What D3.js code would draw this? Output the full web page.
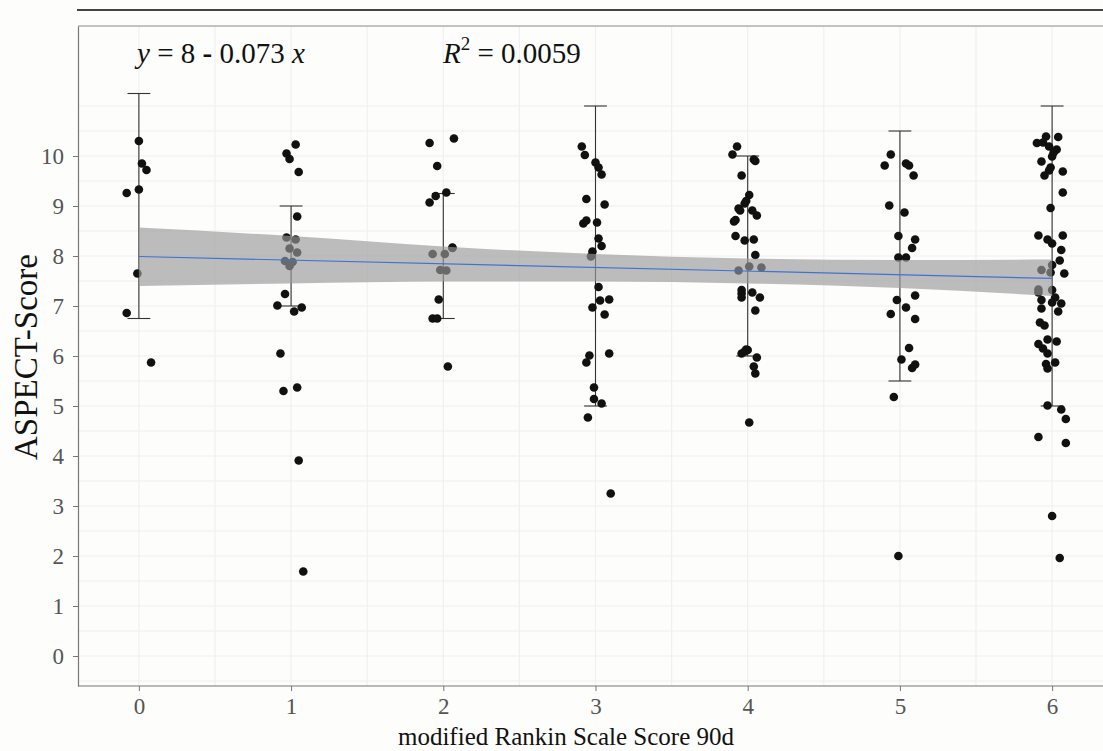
<!DOCTYPE html>
<html>
<head>
<meta charset="utf-8">
<script src="https://cdn.jsdelivr.net/npm/d3@7"></script>
<style>
  body { margin: 0; background: #fdfdfb; }
  svg { display: block; font-family: "Liberation Serif", "DejaVu Serif", serif; }
</style>
</head>
<body>
<svg id="chart" width="1103" height="751"></svg>
<script>
// mRS groups and jittered ASPECT points (group, jitter offset, score)
const mrsGroups = [0, 1, 2, 3, 4, 5, 6];
const yTicks = [0, 1, 2, 3, 4, 5, 6, 7, 8, 9, 10];

const pointGroup = [
  0,0,0,0,0,0,0,0,
  1,1,1,1,1,1,1,1,1,1,1,1,1,1,1,1,1,1,1,1,1,
  2,2,2,2,2,2,2,2,2,2,2,2,2,2,2,2,
  3,3,3,3,3,3,3,3,3,3,3,3,3,3,3,3,3,3,3,3,3,3,3,3,3,3,3,
  4,4,4,4,4,4,4,4,4,4,4,4,4,4,4,4,4,4,4,4,4,4,4,4,4,4,4,4,4,4,4,4,4,4,4,
  5,5,5,5,5,5,5,5,5,5,5,5,5,5,5,5,5,5,5,5,5,5,5,
  6,6,6,6,6,6,6,6,6,6,6,6,6,6,6,6,6,6,6,6,6,6,6,6,6,6,6,6,6,6,6,6,6,6,6,6,6,6,6,6,6,6,6,6,6,6,6,6,6,6,6
];
const pointJitter = [
  0.00,0.02,0.05,0.00,-0.08,-0.01,-0.08,0.08,
  0.03,-0.03,-0.01,0.05,0.04,-0.03,0.03,-0.01,0.04,-0.04,0.01,-0.01,-0.04,-0.09,0.07,0.02,-0.07,-0.05,0.04,0.05,0.08,
  -0.09,0.07,-0.04,-0.05,0.02,-0.09,0.06,0.06,-0.07,0.01,-0.02,0.02,-0.03,-0.07,-0.04,0.03,
  -0.09,-0.07,0.00,0.02,0.04,-0.06,0.06,-0.08,-0.06,0.01,0.02,0.04,-0.02,-0.03,0.02,0.03,0.09,-0.02,0.06,-0.04,-0.06,0.09,-0.01,-0.01,0.04,-0.05,0.10,
  -0.07,-0.10,0.04,0.05,-0.04,0.01,-0.01,-0.02,-0.06,-0.05,0.03,0.06,-0.08,-0.09,-0.08,-0.02,0.04,0.05,-0.06,0.01,0.09,-0.04,-0.04,-0.04,0.03,0.08,0.05,-0.01,-0.04,0.00,-0.02,0.06,0.04,0.05,0.01,
  -0.06,-0.10,0.04,0.06,0.09,-0.07,0.03,-0.01,0.10,0.08,-0.01,0.04,-0.02,0.10,-0.06,0.04,0.10,0.06,0.01,0.08,0.10,-0.04,-0.01,
  -0.04,0.04,-0.10,-0.06,-0.02,0.03,0.01,0.00,-0.07,-0.01,-0.02,0.07,-0.05,0.07,-0.01,-0.09,-0.03,0.00,0.07,0.06,0.05,0.00,-0.07,-0.01,0.08,-0.09,-0.09,0.00,0.02,-0.07,0.06,0.00,-0.07,0.04,-0.08,-0.05,-0.03,0.03,-0.09,-0.06,-0.03,0.02,-0.04,-0.03,-0.03,0.06,0.09,-0.09,0.09,0.00,0.05
];
const pointScore = [
  10.30,9.85,9.72,9.33,9.26,7.65,6.86,5.87,
  10.23,10.05,9.94,9.68,8.79,8.37,8.33,8.15,8.07,7.90,7.88,7.80,7.24,7.01,6.97,6.89,6.05,5.30,5.37,3.91,1.69,
  10.26,10.35,9.80,9.20,9.27,9.07,8.17,8.16,8.04,8.04,7.72,7.71,7.13,6.75,6.75,5.79,
  10.19,10.02,9.87,9.77,9.63,9.14,9.03,8.65,8.71,8.67,8.35,8.20,8.09,7.99,7.38,7.11,7.13,6.97,6.83,6.01,5.87,6.05,5.37,5.14,5.05,4.77,3.25,
  10.19,10.03,9.93,9.90,9.61,9.22,9.10,9.05,8.95,8.91,8.91,8.81,8.72,8.69,8.40,8.31,8.33,8.02,7.71,7.79,7.77,7.32,7.25,7.17,7.27,7.17,6.91,6.13,6.05,6.12,6.09,5.97,5.79,5.65,4.67,
  10.03,9.81,9.85,9.81,9.61,9.01,8.87,8.40,8.33,8.16,7.97,7.97,7.12,7.21,6.84,6.97,6.74,6.16,5.93,5.76,5.83,5.18,2.00,
  10.39,10.38,10.26,10.27,10.19,10.13,10.07,9.99,9.89,9.77,9.71,9.69,9.61,9.27,8.96,8.41,8.33,8.25,8.41,8.12,7.91,7.82,7.72,7.67,7.65,7.33,7.27,7.32,7.17,7.12,7.05,7.07,6.95,6.89,6.67,6.61,6.33,6.29,6.24,6.15,6.05,5.87,5.84,5.75,5.01,4.93,4.74,4.38,4.26,2.80,1.96
];

// error bar ranges per group
const barLow  = [6.75, 7.0, 6.75, 5.0, 6.0, 5.5, 5.0];
const barHigh = [11.25, 9.0, 9.25, 11.0, 10.0, 10.5, 11.0];

// regression fit and confidence band at each group
const fitIntercept = 7.99;
const fitSlope = -0.073;
const bandLow  = [7.40, 7.45, 7.49, 7.49, 7.45, 7.36, 7.20];
const bandHigh = [8.57, 8.40, 8.19, 8.04, 7.95, 7.92, 7.93];

const svg = d3.select("#chart");

const x = d3.scaleLinear().domain([-0.4, 6.4]).range([78, 1113]);
const y = d3.scaleLinear().domain([-0.6, 12.6]).range([686, 26]);

// dark rule above the panel
svg.append("line")
    .attr("x1", 77).attr("x2", 1103)
    .attr("y1", 10).attr("y2", 10)
    .attr("stroke", "#444").attr("stroke-width", 2);

svg.append("defs").append("clipPath").attr("id", "panel")
    .append("rect")
    .attr("x", x(-0.4)).attr("y", y(12.6))
    .attr("width", x(6.4) - x(-0.4)).attr("height", y(-0.6) - y(12.6));

const grid = svg.append("g").attr("clip-path", "url(#panel)");

// grid lines every half unit
const yGrid = d3.range(-0.5, 11.01, 0.5);
const xGrid = d3.range(-0.5, 6.51, 0.5);
grid.selectAll(".hg").data(yGrid).join("line")
    .attr("x1", x(-0.4)).attr("x2", x(6.4))
    .attr("y1", d => y(d)).attr("y2", d => y(d))
    .attr("stroke", "#f0f0f2").attr("stroke-width", 1.2);
grid.selectAll(".vg").data(xGrid).join("line")
    .attr("y1", y(-0.6)).attr("y2", y(12.6))
    .attr("x1", d => x(d)).attr("x2", d => x(d))
    .attr("stroke", "#f0f0f2").attr("stroke-width", 1.2);

// panel top border
svg.append("line").attr("x1", x(-0.4)).attr("x2", 1103)
    .attr("y1", y(12.6)).attr("y2", y(12.6))
    .attr("stroke", "#888").attr("stroke-width", 1);

const plot = svg.append("g").attr("clip-path", "url(#panel)");

// error bars
const bars = plot.selectAll(".eb").data(mrsGroups).join("g");
bars.append("line")
    .attr("x1", d => x(d)).attr("x2", d => x(d))
    .attr("y1", (d, i) => y(barLow[i])).attr("y2", (d, i) => y(barHigh[i]))
    .attr("stroke", "#333").attr("stroke-width", 1.1);
bars.append("line")
    .attr("x1", d => x(d - 0.075)).attr("x2", d => x(d + 0.075))
    .attr("y1", (d, i) => y(barHigh[i])).attr("y2", (d, i) => y(barHigh[i]))
    .attr("stroke", "#333").attr("stroke-width", 1.1);
bars.append("line")
    .attr("x1", d => x(d - 0.075)).attr("x2", d => x(d + 0.075))
    .attr("y1", (d, i) => y(barLow[i])).attr("y2", (d, i) => y(barLow[i]))
    .attr("stroke", "#333").attr("stroke-width", 1.1);

// jittered points
plot.selectAll(".pt").data(pointScore).join("circle")
    .attr("cx", (d, i) => x(pointGroup[i] + pointJitter[i]))
    .attr("cy", d => y(d))
    .attr("r", 4.3)
    .attr("fill", "#111");

// confidence band and fitted line
const area = d3.area()
    .x(d => x(d))
    .y0((d, i) => y(bandLow[i]))
    .y1((d, i) => y(bandHigh[i]))
    .curve(d3.curveMonotoneX);
plot.append("path").datum(mrsGroups)
    .attr("d", area)
    .attr("fill", "#999").attr("fill-opacity", 0.65);

plot.append("line")
    .attr("x1", x(0)).attr("x2", x(6))
    .attr("y1", y(fitIntercept)).attr("y2", y(fitIntercept + fitSlope * 6))
    .attr("stroke", "#3f73d0").attr("stroke-width", 1.2);

// axes
const yAxis = svg.append("g")
    .attr("transform", `translate(${x(-0.4)},0)`)
    .call(d3.axisLeft(y).tickValues(yTicks).tickFormat(d3.format("d"))
        .tickSizeInner(5).tickSizeOuter(0).tickPadding(9));
const xAxis = svg.append("g")
    .attr("transform", `translate(0,${y(-0.6)})`)
    .call(d3.axisBottom(x).tickValues(mrsGroups).tickFormat(d3.format("d"))
        .tickSizeInner(5).tickSizeOuter(0).tickPadding(7));

[yAxis, xAxis].forEach(a => {
    a.select(".domain").attr("stroke", "#777").attr("stroke-width", 1.2);
    a.selectAll(".tick line").attr("stroke", "#777");
    a.selectAll(".tick text")
        .attr("fill", "#555")
        .style("font-family", "Liberation Serif, serif")
        .style("font-size", "23px");
});
xAxis.select(".domain").attr("d", `M${x(-0.4)},0H1103`);

// axis titles
svg.append("text")
    .attr("x", 566).attr("y", 745)
    .attr("text-anchor", "middle")
    .style("font-size", "25px").attr("fill", "#111")
    .text("modified Rankin Scale Score 90d");

svg.append("text")
    .attr("transform", "translate(37,357) rotate(-90)")
    .attr("text-anchor", "middle")
    .style("font-size", "33px").attr("fill", "#111")
    .text("ASPECT-Score");

// equation labels
const eq = svg.append("text")
    .attr("x", 137).attr("y", 63)
    .style("font-size", "29px").attr("fill", "#111");
eq.append("tspan").style("font-style", "italic").text("y");
eq.append("tspan").text(" = 8 ");
eq.append("tspan").style("font-weight", "bold").text("-");
eq.append("tspan").text(" 0.073 ");
eq.append("tspan").style("font-style", "italic").text("x");

const r2 = svg.append("text")
    .attr("x", 443).attr("y", 63)
    .style("font-size", "29px").attr("fill", "#111");
r2.append("tspan").style("font-style", "italic").text("R");
r2.append("tspan").attr("dy", -13).style("font-size", "19px").text("2");
r2.append("tspan").attr("dy", 13).text(" = 0.0059");
</script>
</body>
</html>
